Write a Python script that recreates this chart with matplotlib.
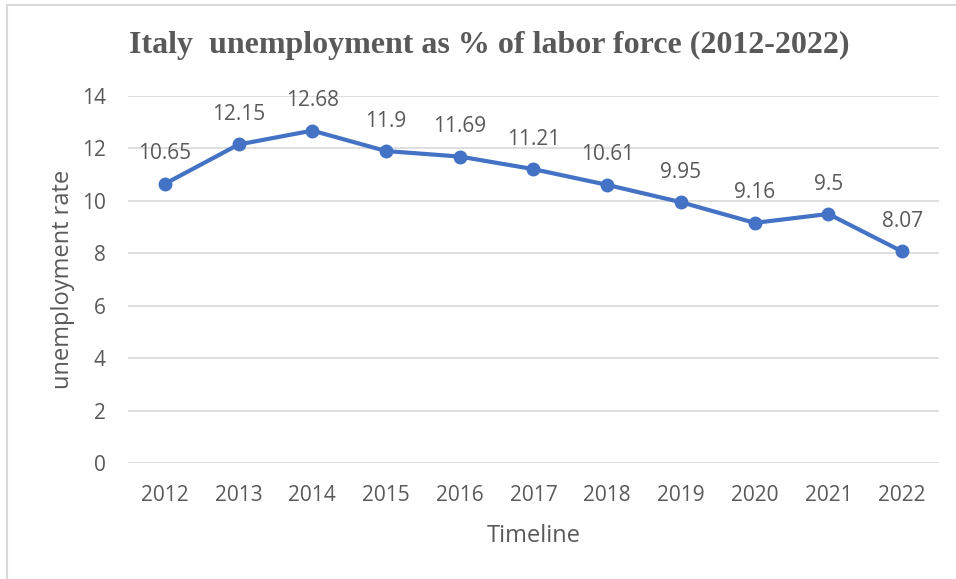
import matplotlib.pyplot as plt
from matplotlib.patches import Rectangle

years = ['2012', '2013', '2014', '2015', '2016', '2017', '2018', '2019', '2020', '2021', '2022']
rate = [10.65, 12.15, 12.68, 11.9, 11.69, 11.21, 10.61, 9.95, 9.16, 9.5, 8.07]
rate_labels = ['10.65', '12.15', '12.68', '11.9', '11.69', '11.21', '10.61', '9.95', '9.16', '9.5', '8.07']

text_col = '#595959'
line_col = '#4472C4'

plt.rcParams['font.family'] = ['Open Sans', 'DejaVu Sans']

fig = plt.figure(figsize=(9.56, 5.79), dpi=100)
ax = fig.add_axes([0.1339, 0.2003, 0.8483, 0.6339])

# chart border (cut off at right and bottom like the screenshot)
fig.patches.append(Rectangle((7 / 956, -0.05), 1.1, 1 - 5 / 579 + 0.05,
                             transform=fig.transFigure, fill=False,
                             edgecolor='#D9D9D9', linewidth=1.5))

x = list(range(len(years)))
ax.plot(x, rate, color=line_col, linewidth=3, marker='o', markersize=9, zorder=3)
for i, v in enumerate(rate):
    ax.annotate(rate_labels[i], (i, v), xytext=(0, 14), textcoords='offset points',
                ha='center', va='bottom', fontsize=15, color=text_col)

ax.set_xlim(-0.5, len(years) - 0.5)
ax.set_ylim(0, 14)
ax.set_yticks(range(0, 15, 2))
ax.set_xticks(x)
ax.set_xticklabels(years)
ax.tick_params(axis='both', length=0, labelsize=15, labelcolor=text_col)
ax.tick_params(axis='y', pad=16)
ax.tick_params(axis='x', pad=16)
ax.grid(axis='y', color='#D9D9D9', linewidth=1.2)
ax.set_axisbelow(True)
for s in ax.spines.values():
    s.set_visible(False)

ax.set_ylabel('unemployment rate', fontsize=17, color=text_col, labelpad=5)
ax.set_xlabel('Timeline', fontsize=17, color=text_col, labelpad=13)

fig.text(0.512, 0.922, 'Italy  unemployment as % of labor force (2012-2022)',
         ha='center', va='center', fontsize=23, fontweight='bold',
         family='Liberation Serif', color=text_col)

fig.savefig('out.png', dpi=100)
